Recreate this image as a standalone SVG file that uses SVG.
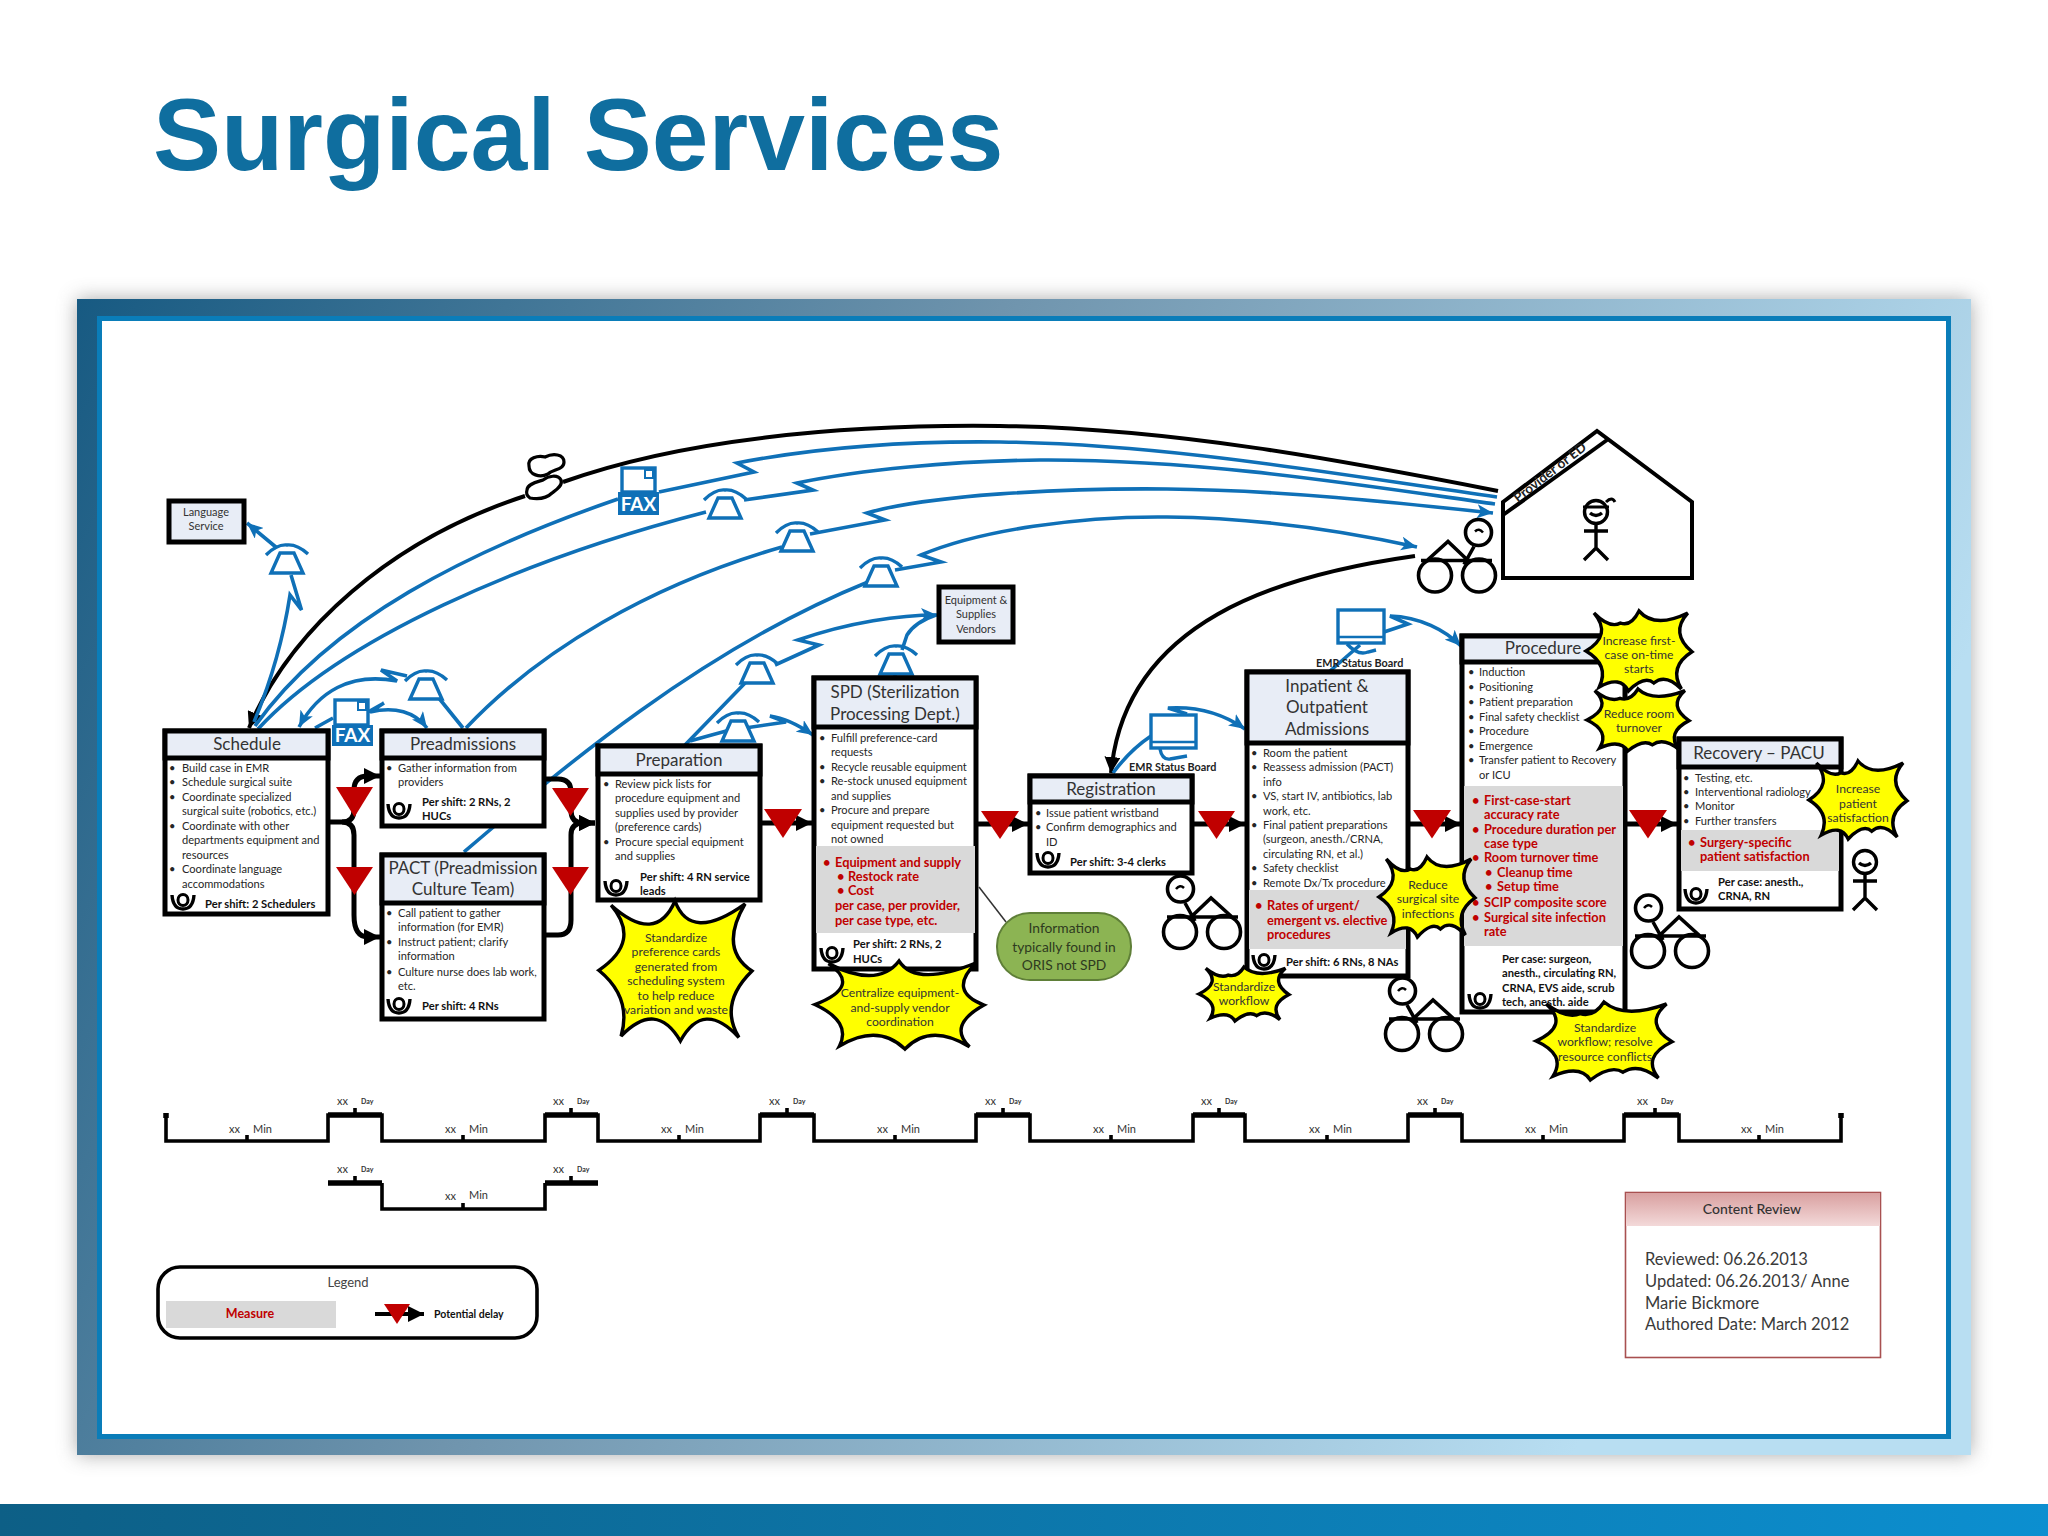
<svg xmlns="http://www.w3.org/2000/svg" width="2048" height="1536" viewBox="0 0 2048 1536">
<style>
text{font-family:"Lato","Liberation Sans",sans-serif;fill:#262626}
.box{fill:#fff;stroke:#000;stroke-width:5}
.hd{fill:#e8edf6;stroke:#000;stroke-width:5}
.t{font-size:17px;text-anchor:middle;fill:#333}
.b{font-size:11.1px}
.s{font-size:11.2px;font-weight:700;fill:#111}
.r{font-size:12.8px;font-weight:700;fill:#c00000}
.m{fill:#d9d9d9}
.bl{fill:none;stroke:#0f70b7;stroke-width:3.6}
.bk{fill:none;stroke:#000;stroke-width:4}
.fl{fill:none;stroke:#000;stroke-width:5}
.ic{fill:#fff;stroke:#0f70b7;stroke-width:3.4}
.star{fill:#ffff00;stroke:#000;stroke-width:3.4;stroke-linejoin:miter;vector-effect:non-scaling-stroke}
.y{font-size:12.2px;text-anchor:middle;fill:#333}
.g{font-size:13.8px;text-anchor:middle;fill:#2e3a20}
.tri{fill:#c00000}
.tl{fill:none;stroke:#000;stroke-width:3.6}
.tlh{fill:none;stroke:#000;stroke-width:5.5}
.x{font-size:11px;fill:#333}
.d{font-size:7px;fill:#333;font-weight:700}
.lab{font-size:10.8px;font-weight:700;fill:#222}
.nm{font-size:11px;text-anchor:middle;fill:#333}
</style>
<defs>
<linearGradient id="fr" x1="0" y1="0" x2="1" y2="0.3"><stop offset="0" stop-color="#175a82"/><stop offset=".45" stop-color="#6f94ad"/><stop offset="1" stop-color="#b8def2"/></linearGradient>
<linearGradient id="bar" x1="0" y1="0" x2="1" y2="0"><stop offset="0" stop-color="#0d5f86"/><stop offset="1" stop-color="#0c8fd0"/></linearGradient>
<linearGradient id="cr" x1="0" y1="0" x2="0" y2="1"><stop offset="0" stop-color="#d9a0a0"/><stop offset="1" stop-color="#f3d9d9"/></linearGradient>
<filter id="sh" x="-5%" y="-5%" width="110%" height="110%"><feGaussianBlur stdDeviation="10"/></filter>
<marker id="ab" markerUnits="userSpaceOnUse" markerWidth="18" markerHeight="14" refX="16" refY="7" orient="auto"><path d="M0,0L16,7L0,14L4,7z" fill="#0f70b7"/></marker>
<marker id="ak" markerUnits="userSpaceOnUse" markerWidth="18" markerHeight="16" refX="16" refY="8" orient="auto"><path d="M0,0L16,8L0,16z" fill="#000"/></marker>
<g id="phone"><path d="M-21,-7Q-10,-18 0,-17Q10,-18 21,-8" fill="none" stroke="#0f70b7" stroke-width="3.4"/><path class="ic" d="M-7,-9H7L16,11H-16z"/></g>
<g id="bike" fill="none" stroke="#000" stroke-width="3.6"><circle cx="13" cy="15" r="16.500"/><circle cx="57" cy="15" r="16.500"/><path d="M0,0H71M24,0L44,-19L65,0M18,-14L28,4"/><circle cx="13.500" cy="-28" r="13"/><path d="M9,-28Q13,-33 17,-29" stroke-width="2.500"/></g>
<g id="worker" fill="none" stroke="#000"><path d="M-11,-6Q-10,8 0,8Q10,8 11,-6" stroke-width="3.4"/><ellipse cx="0" cy="-1" rx="5" ry="5.500" stroke-width="3"/></g>
<g id="person" fill="none" stroke="#000" stroke-width="3.4"><circle cx="0" cy="0" r="11.500"/><path d="M0,11.500V36M-12,19H12M0,36L-12,48M0,36L12,48M-6,1Q0,6 6,1"/></g>
<path id="b8" class="star" d="M0,-1Q.2,-.4 .91,-.96Q.565,-.32 1,0Q.565,.465 .83,.95Q.37,.4 .07,1Q-.245,.41 -.7,.93Q-.555,.38 -.99,-.01Q-.43,-.425 -.83,-.94Q-.25,-.37 0,-1z"/>
<path id="b12" class="star" d="M0,-1Q.3,-.55 .92,-.95Q.58,-.45 1,.02Q.55,.4 .8,.95Q.5,.55 .28,.8Q.1,.6 -.2,1Q-.35,.6 -.75,.9Q-.55,.35 -1,0Q-.5,-.4 -.85,-.95Q-.55,-.55 -.35,-.7Q-.15,-.6 0,-1z"/>
</defs>
<rect width="2048" height="1536" fill="#fff"/>
<g id="slide">
<rect x="77" y="299" width="1894" height="1156" fill="#555" opacity=".5" filter="url(#sh)"/>
<rect x="77" y="299" width="1894" height="1156" fill="url(#fr)"/>
<rect x="97" y="316" width="1854" height="1123" fill="#0a7db9"/>
<rect x="102" y="321" width="1844" height="1113" fill="#fff"/>
<rect x="0" y="1504" width="2048" height="32" fill="url(#bar)"/>
<text x="153" y="170" font-size="102" font-weight="700" style="font-family:'Liberation Sans',sans-serif;fill:#0f6e9f">Surgical Services</text>
</g>
<g id="connectors">
<path class="bk" d="M525,496C390,540 290,630 249,728" marker-end="url(#ak)"/>
<path class="bk" d="M563,482C680,440 840,424 1000,426C1170,428 1340,460 1498,491"/>
<path class="bk" d="M1415,556C1280,575 1125,620 1111,773" marker-end="url(#ak)"/>
<path class="bl" d="M255,726C330,620 470,550 618,499M659,492L754,472L737,463C830,445 920,441 1000,442C1170,444 1340,475 1497,497"/>
<path class="bl" d="M258,729C340,640 520,560 706,512M744,500L813,490L797,483C860,470 950,461 1040,460C1200,459 1360,485 1495,504"/>
<path class="bl" d="M466,728C540,650 650,585 782,547M810,534L885,520L867,513C930,495 1060,488 1167,489C1280,490 1400,503 1493,513" marker-end="url(#ab)"/>
<path class="bl" d="M464,852C560,770 700,650 868,582M895,570L941,562L921,555C980,530 1080,516 1167,517C1260,518 1340,530 1417,547" marker-end="url(#ab)"/>
<path class="bl" d="M685,745L748,680M775,665L819,645L798,640C850,622 900,615 937,615" marker-end="url(#ab)"/>
<path class="bl" d="M690,741Q715,734 730,730M745,728L786,722L770,716C785,718 800,726 813,735" marker-end="url(#ab)"/>
<path class="bl" d="M895,678V672M902,650L907,635Q915,622 936,615"/>
<path class="bl" d="M254,722Q280,660 290,595L301.500,610L291,575M277,548L247,523" marker-end="url(#ab)"/>
<path class="bl" d="M463,728L438,697M407,676L381,670L397,681C350,672 318,692 299,727" marker-end="url(#ab)"/>
<path class="bl" d="M315,728L333,718M368,712L384,703L370,712C395,706 415,712 427,728" marker-end="url(#ab)"/>
<path class="bl" d="M1113,773Q1130,750 1151,736M1187,714L1168,708C1200,706 1225,715 1245,729" marker-end="url(#ab)"/>
<path class="bl" d="M1384,632L1408,624L1390,616C1420,617 1445,630 1461,646" marker-end="url(#ab)"/>
<path class="bl" d="M1330,671L1360,645"/>
<path d="M979,887L1006,922" stroke="#333" stroke-width="1.500" fill="none"/>
<path class="fl" d="M328,822H342Q354,822 354,810V790Q354,776 368,776H380" marker-end="url(#ak)"/>
<path class="fl" d="M342,822Q354,822 354,835V915Q354,937 368,937H380" marker-end="url(#ak)"/>
<path class="fl" d="M544,779H558Q571,779 571,792V810Q571,823 583,823H595" marker-end="url(#ak)"/>
<path class="fl" d="M544,935H558Q571,935 571,920V835Q571,823 583,823H595" marker-end="url(#ak)"/>
<path class="fl" d="M760,823H812" marker-end="url(#ak)"/>
<path class="fl" d="M977,824H1028" marker-end="url(#ak)"/>
<path class="fl" d="M1192,824H1245" marker-end="url(#ak)"/>
<path class="fl" d="M1408,824H1461" marker-end="url(#ak)"/>
<path class="fl" d="M1626,824H1677" marker-end="url(#ak)"/>
</g>
<g id="icons">
<use href="#phone" x="725" y="507"/><use href="#phone" x="797" y="540"/><use href="#phone" x="881" y="575"/><use href="#phone" x="757" y="672"/><use href="#phone" x="738" y="730"/><use href="#phone" x="896" y="663"/><use href="#phone" x="287" y="562"/><use href="#phone" x="426" y="688"/>
<g id="cloud" fill="#fff" stroke="#000" stroke-width="3.200"><path d="M529,466C527,458 538,455 545,457C553,453 564,454 564,462C564,470 553,469 548,474C540,478 529,475 529,466z"/><path d="M527,490C527,484 537,482 543,480C548,476 558,474 561,480C563,486 556,490 552,493C546,499 536,499 530,498C527,496 526,493 527,490z"/></g>
<g id="fax1"><rect x="622" y="468" width="33" height="24" fill="#fff" stroke="#0f70b7" stroke-width="3.400"/><rect x="645" y="470" width="8" height="8" fill="none" stroke="#0f70b7" stroke-width="2"/><rect x="618" y="492" width="41" height="23" fill="#0f70b7"/><text x="638.500" y="511" font-size="19" font-weight="700" text-anchor="middle" style="fill:#fff">FAX</text></g>
<g id="fax2"><rect x="335" y="700" width="33" height="25" fill="#fff" stroke="#0f70b7" stroke-width="3.400"/><rect x="358" y="702" width="8" height="8" fill="none" stroke="#0f70b7" stroke-width="2"/><rect x="332" y="725" width="41" height="21" fill="#0f70b7"/><text x="352.500" y="742" font-size="19" font-weight="700" text-anchor="middle" style="fill:#fff">FAX</text></g>
<g id="monitor1" fill="#fff" stroke="#0f70b7" stroke-width="3.400"><rect x="1151" y="715" width="45" height="33"/><path d="M1151,742H1196" stroke-width="2.500"/><path d="M1160,749Q1162,760 1170,759L1187,756" fill="none"/></g>
<g id="monitor2" fill="#fff" stroke="#0f70b7" stroke-width="3.400"><rect x="1338" y="610" width="46" height="33"/><path d="M1338,637H1384" stroke-width="2.500"/><path d="M1347,644Q1358,656 1368,652L1376,650" fill="none"/></g>
<use href="#bike" transform="translate(1492,560.500) scale(-1,1)"/>
<use href="#bike" x="1167" y="917"/><use href="#bike" x="1389" y="1019"/><use href="#bike" x="1635" y="936"/>
<use href="#person" x="1865" y="862"/>
</g>
<g id="house">
<path d="M1503,502L1597,431L1692,502V578H1503z" fill="#fff" stroke="#000" stroke-width="4"/>
<path d="M1503,515L1607,440" stroke="#000" stroke-width="4" fill="none"/>
<text x="1518" y="503" font-size="13.500" font-weight="700" transform="rotate(-38 1518 503)" style="fill:#222">Provider or ED</text>
<use href="#person" x="1596" y="512"/>
<path d="M1583,507H1609M1606,502Q1612,496 1615,502" fill="none" stroke="#000" stroke-width="3"/>
</g>
<g id="language"><rect class="hd" x="169" y="501" width="75" height="41"/><text class="nm" x="206" y="515.500">Language</text><text class="nm" x="206" y="530">Service</text></g>
<g id="vendors"><rect class="hd" x="939" y="587" width="74" height="55"/><text class="nm" x="976" y="604">Equipment &amp;</text><text class="nm" x="976" y="618">Supplies</text><text class="nm" x="976" y="632.500">Vendors</text></g>
<g id="schedule"><rect class="box" x="165" y="731" width="163" height="183"/><rect class="hd" x="165" y="731" width="163" height="27"/><text class="t" x="247" y="750">Schedule</text>
<text class="b"><tspan x="169" y="772">•</tspan><tspan x="182" y="772">Build case in EMR</tspan><tspan x="169" y="786">•</tspan><tspan x="182" y="786">Schedule surgical suite</tspan><tspan x="169" y="801">•</tspan><tspan x="182" y="801">Coordinate specialized</tspan><tspan x="182" y="815">surgical suite (robotics, etc.)</tspan><tspan x="169" y="830">•</tspan><tspan x="182" y="830">Coordinate with other</tspan><tspan x="182" y="844">departments equipment and</tspan><tspan x="182" y="858.500">resources</tspan><tspan x="169" y="873">•</tspan><tspan x="182" y="873">Coordinate language</tspan><tspan x="182" y="887.500">accommodations</tspan></text>
<use href="#worker" x="183" y="901"/><text class="s" x="205" y="907.500">Per shift: 2 Schedulers</text></g>
<g id="preadmissions"><rect class="box" x="382" y="731" width="162" height="95"/><rect class="hd" x="382" y="731" width="162" height="27"/><text class="t" x="463" y="750">Preadmissions</text>
<text class="b"><tspan x="386" y="772">•</tspan><tspan x="398" y="772">Gather information from</tspan><tspan x="398" y="786">providers</tspan></text>
<use href="#worker" x="399" y="810"/><text class="s"><tspan x="422" y="806">Per shift: 2 RNs, 2</tspan><tspan x="422" y="820">HUCs</tspan></text></g>
<g id="pact"><rect class="box" x="382" y="855" width="162" height="164"/><rect class="hd" x="382" y="855" width="162" height="48"/><text class="t"><tspan x="463" y="873.500">PACT (Preadmission</tspan><tspan x="463" y="895">Culture Team)</tspan></text>
<text class="b"><tspan x="386" y="916.500">•</tspan><tspan x="398" y="916.500">Call patient to gather</tspan><tspan x="398" y="931">information (for EMR)</tspan><tspan x="386" y="945.500">•</tspan><tspan x="398" y="945.500">Instruct patient; clarify</tspan><tspan x="398" y="960">information</tspan><tspan x="386" y="976">•</tspan><tspan x="398" y="976">Culture nurse does lab work,</tspan><tspan x="398" y="990">etc.</tspan></text>
<use href="#worker" x="399" y="1005"/><text class="s" x="422" y="1009.500">Per shift: 4 RNs</text></g>
<g id="preparation"><rect class="box" x="598" y="746" width="162" height="154"/><rect class="hd" x="598" y="746" width="162" height="28"/><text class="t" x="679" y="766">Preparation</text>
<text class="b"><tspan x="603" y="788">•</tspan><tspan x="615" y="788">Review pick lists for</tspan><tspan x="615" y="802">procedure equipment and</tspan><tspan x="615" y="817">supplies used by provider</tspan><tspan x="615" y="831">(preference cards)</tspan><tspan x="603" y="845.500">•</tspan><tspan x="615" y="845.500">Procure special equipment</tspan><tspan x="615" y="860">and supplies</tspan></text>
<use href="#worker" x="616" y="887"/><text class="s"><tspan x="640" y="880.500">Per shift: 4 RN service</tspan><tspan x="640" y="895">leads</tspan></text></g>
<g id="spd"><rect class="box" x="814" y="678" width="162" height="291"/><rect class="hd" x="814" y="678" width="162" height="49"/><text class="t"><tspan x="895" y="698">SPD (Sterilization</tspan><tspan x="895" y="720">Processing Dept.)</tspan></text>
<text class="b"><tspan x="819" y="742">•</tspan><tspan x="831" y="742">Fulfill preference-card</tspan><tspan x="831" y="756">requests</tspan><tspan x="819" y="771">•</tspan><tspan x="831" y="771">Recycle reusable equipment</tspan><tspan x="819" y="785">•</tspan><tspan x="831" y="785">Re-stock unused equipment</tspan><tspan x="831" y="799.500">and supplies</tspan><tspan x="819" y="814">•</tspan><tspan x="831" y="814">Procure and prepare</tspan><tspan x="831" y="828.500">equipment requested but</tspan><tspan x="831" y="843">not owned</tspan></text>
<rect class="m" x="816" y="846" width="159" height="87"/>
<text class="r"><tspan x="823" y="866.500">•</tspan><tspan x="835" y="866.500">Equipment and supply</tspan><tspan x="837" y="880.500">•</tspan><tspan x="848" y="880.500">Restock rate</tspan><tspan x="837" y="895">•</tspan><tspan x="848" y="895">Cost</tspan><tspan x="835" y="910">per case, per provider,</tspan><tspan x="835" y="924.500">per case type, etc.</tspan></text>
<use href="#worker" x="832" y="954"/><text class="s"><tspan x="853" y="948">Per shift: 2 RNs, 2</tspan><tspan x="853" y="962.500">HUCs</tspan></text></g>
<g id="registration"><rect class="box" x="1030" y="776" width="162" height="97"/><rect class="hd" x="1030" y="776" width="162" height="26"/><text class="t" x="1111" y="795">Registration</text>
<text class="b"><tspan x="1035" y="817">•</tspan><tspan x="1046" y="817">Issue patient wristband</tspan><tspan x="1035" y="831">•</tspan><tspan x="1046" y="831">Confirm demographics and</tspan><tspan x="1046" y="846">ID</tspan></text>
<use href="#worker" x="1048" y="859"/><text class="s" x="1070" y="865.500">Per shift: 3-4 clerks</text></g>
<g id="inpatient"><rect class="box" x="1247" y="672" width="161" height="304"/><rect class="hd" x="1247" y="672" width="161" height="71"/><text class="t"><tspan x="1327" y="691.500">Inpatient &amp;</tspan><tspan x="1327" y="713">Outpatient</tspan><tspan x="1327" y="735">Admissions</tspan></text>
<text class="b"><tspan x="1251" y="756.500">•</tspan><tspan x="1263" y="756.500">Room the patient</tspan><tspan x="1251" y="771">•</tspan><tspan x="1263" y="771">Reassess admission (PACT)</tspan><tspan x="1263" y="785.500">info</tspan><tspan x="1251" y="800">•</tspan><tspan x="1263" y="800">VS, start IV, antibiotics, lab</tspan><tspan x="1263" y="814.500">work, etc.</tspan><tspan x="1251" y="829">•</tspan><tspan x="1263" y="829">Final patient preparations</tspan><tspan x="1263" y="843">(surgeon, anesth./CRNA,</tspan><tspan x="1263" y="858">circulating RN, et al.)</tspan><tspan x="1251" y="872">•</tspan><tspan x="1263" y="872">Safety checklist</tspan><tspan x="1251" y="886.500">•</tspan><tspan x="1263" y="886.500">Remote Dx/Tx  procedure</tspan></text>
<rect class="m" x="1249" y="890" width="157" height="59"/>
<text class="r"><tspan x="1255" y="910">•</tspan><tspan x="1267" y="910">Rates of urgent/</tspan><tspan x="1267" y="924.500">emergent vs. elective</tspan><tspan x="1267" y="939">procedures</tspan></text>
<use href="#worker" x="1264" y="961"/><text class="s" x="1286" y="965.500">Per shift: 6 RNs, 8 NAs</text></g>
<g id="procedure"><rect class="box" x="1462" y="636" width="163" height="376"/><rect class="hd" x="1462" y="636" width="163" height="26"/><text class="t" x="1543" y="654">Procedure</text>
<text class="b"><tspan x="1468" y="676">•</tspan><tspan x="1479" y="676">Induction</tspan><tspan x="1468" y="690.500">•</tspan><tspan x="1479" y="690.500">Positioning</tspan><tspan x="1468" y="706">•</tspan><tspan x="1479" y="706">Patient preparation</tspan><tspan x="1468" y="721">•</tspan><tspan x="1479" y="721">Final safety checklist</tspan><tspan x="1468" y="735">•</tspan><tspan x="1479" y="735">Procedure</tspan><tspan x="1468" y="750">•</tspan><tspan x="1479" y="750">Emergence</tspan><tspan x="1468" y="764">•</tspan><tspan x="1479" y="764">Transfer patient to Recovery</tspan><tspan x="1479" y="778.500">or ICU</tspan></text>
<rect class="m" x="1464" y="786" width="159" height="160"/>
<text class="r"><tspan x="1472" y="804.500">•</tspan><tspan x="1484" y="804.500">First-case-start</tspan><tspan x="1484" y="819">accuracy rate</tspan><tspan x="1472" y="833.500">•</tspan><tspan x="1484" y="833.500">Procedure duration per</tspan><tspan x="1484" y="848">case type</tspan><tspan x="1472" y="862">•</tspan><tspan x="1484" y="862">Room turnover time</tspan><tspan x="1485" y="877">•</tspan><tspan x="1497" y="877">Cleanup time</tspan><tspan x="1485" y="891">•</tspan><tspan x="1497" y="891">Setup time</tspan><tspan x="1472" y="907">•</tspan><tspan x="1484" y="907">SCIP composite score</tspan><tspan x="1472" y="921.500">•</tspan><tspan x="1484" y="921.500">Surgical site infection</tspan><tspan x="1484" y="936">rate</tspan></text>
<use href="#worker" x="1480" y="1000"/><text class="s"><tspan x="1502" y="963">Per case: surgeon,</tspan><tspan x="1502" y="977">anesth., circulating RN,</tspan><tspan x="1502" y="992">CRNA, EVS aide, scrub</tspan><tspan x="1502" y="1006">tech, anesth. aide</tspan></text></g>
<g id="recovery"><rect class="box" x="1679" y="739" width="162" height="170"/><rect class="hd" x="1679" y="739" width="162" height="28"/><text class="t" x="1759" y="759">Recovery – PACU</text>
<text class="b"><tspan x="1683" y="781.500">•</tspan><tspan x="1695" y="781.500">Testing, etc.</tspan><tspan x="1683" y="796">•</tspan><tspan x="1695" y="796">Interventional radiology</tspan><tspan x="1683" y="810">•</tspan><tspan x="1695" y="810">Monitor</tspan><tspan x="1683" y="825">•</tspan><tspan x="1695" y="825">Further transfers</tspan></text>
<rect class="m" x="1681" y="830" width="158" height="41"/>
<text class="r"><tspan x="1688" y="847">•</tspan><tspan x="1700" y="847">Surgery-specific</tspan><tspan x="1700" y="861">patient satisfaction</tspan></text>
<use href="#worker" x="1696" y="895"/><text class="s"><tspan x="1718" y="886">Per case: anesth.,</tspan><tspan x="1718" y="900">CRNA, RN</tspan></text></g>
<g id="emr-labels"><text class="lab" x="1129" y="771">EMR Status Board</text><text class="lab" x="1316" y="667">EMR Status Board</text></g>
<g id="delays">
<path class="tri" d="M336,787H373L354.500,817z"/><path class="tri" d="M336,867H373L354.500,895z"/><path class="tri" d="M552,788H589L570.500,816z"/><path class="tri" d="M552,867H589L570.500,895z"/><path class="tri" d="M764,809H802L783,838z"/><path class="tri" d="M981,811H1019L1000,839z"/><path class="tri" d="M1198,811H1235L1216.500,839z"/><path class="tri" d="M1413,810H1451L1432,838.500z"/><path class="tri" d="M1629,810H1667L1648,838.500z"/>
</g>
<g id="info"><rect x="997" y="913" width="134" height="67" rx="33" fill="#8cb453" stroke="#5f7f38" stroke-width="2"/><text class="g" x="1064" y="933">Information</text><text class="g" x="1064" y="951.500">typically found in</text><text class="g" x="1064" y="970">ORIS not SPD</text></g>
<g id="star-prep"><use href="#b8" transform="translate(675,971) scale(77,70)"/><text class="y"><tspan x="676" y="941.500">Standardize</tspan><tspan x="676" y="956">preference cards</tspan><tspan x="676" y="970.500">generated from</tspan><tspan x="676" y="985">scheduling system</tspan><tspan x="676" y="999.500">to help reduce</tspan><tspan x="676" y="1014">variation and waste</tspan></text></g>
<g id="star-spd"><use href="#b8" transform="translate(899,1005) scale(85,44)"/><text class="y"><tspan x="900" y="997">Centralize equipment-</tspan><tspan x="900" y="1011.500">and-supply vendor</tspan><tspan x="900" y="1026">coordination</tspan></text></g>
<g id="star-wf"><use href="#b12" transform="translate(1244,994) scale(45,27)"/><text class="y"><tspan x="1244" y="991">Standardize</tspan><tspan x="1244" y="1005">workflow</tspan></text></g>
<g id="star-ssi"><use href="#b12" transform="translate(1427,897) scale(48,40)"/><text class="y"><tspan x="1428" y="889">Reduce</tspan><tspan x="1428" y="903">surgical site</tspan><tspan x="1428" y="917.500">infections</tspan></text></g>
<g id="star-first"><use href="#b12" transform="translate(1639,651) scale(53,40)"/><text class="y"><tspan x="1639" y="644.500">Increase first-</tspan><tspan x="1639" y="658.500">case on-time</tspan><tspan x="1639" y="673">starts</tspan></text></g>
<g id="star-room"><use href="#b12" transform="translate(1638,720) scale(51,31)"/><text class="y"><tspan x="1639" y="718">Reduce room</tspan><tspan x="1639" y="732">turnover</tspan></text></g>
<g id="star-res"><use href="#b12" transform="translate(1604,1041) scale(68,39)"/><text class="y"><tspan x="1605" y="1032">Standardize</tspan><tspan x="1605" y="1046">workflow; resolve</tspan><tspan x="1605" y="1061">resource conflicts</tspan></text></g>
<g id="star-sat"><use href="#b12" transform="translate(1858,800) scale(49,39)"/><text class="y"><tspan x="1858" y="793">Increase</tspan><tspan x="1858" y="807.500">patient</tspan><tspan x="1858" y="821.500">satisfaction</tspan></text></g>
<g id="timeline">
<path class="tl" d="M166,1113V1141H328V1115H382V1141H545V1115H598V1141H760V1115H814V1141H976V1115H1030V1141H1193V1115H1245V1141H1408V1115H1462V1141H1624V1115H1679V1141H1841V1113"/>
<path class="tlh" d="M328,1115H382M545,1115H598M760,1115H814M976,1115H1030M1193,1115H1245M1408,1115H1462M1624,1115H1679M166,1113V1118M1841,1113V1118"/>
<path class="tl" d="M382,1183V1209H545V1183"/><path class="tlh" d="M328,1183H382M545,1183H598"/>
<path class="tl" d="M247,1135V1141M463,1135V1141M679,1135V1141M895,1135V1141M1111,1135V1141M1327,1135V1141M1543,1135V1141M1759,1135V1141M463,1203V1209M355,1108V1114M571,1108V1114M787,1108V1114M1003,1108V1114M1219,1108V1114M1435,1108V1114M1655,1108V1114M355,1176V1182M571,1176V1182"/>
<text class="x"><tspan x="229" y="1133">xx</tspan><tspan x="253" y="1133">Min</tspan><tspan x="445" y="1133">xx</tspan><tspan x="469" y="1133">Min</tspan><tspan x="661" y="1133">xx</tspan><tspan x="685" y="1133">Min</tspan><tspan x="877" y="1133">xx</tspan><tspan x="901" y="1133">Min</tspan><tspan x="1093" y="1133">xx</tspan><tspan x="1117" y="1133">Min</tspan><tspan x="1309" y="1133">xx</tspan><tspan x="1333" y="1133">Min</tspan><tspan x="1525" y="1133">xx</tspan><tspan x="1549" y="1133">Min</tspan><tspan x="1741" y="1133">xx</tspan><tspan x="1765" y="1133">Min</tspan><tspan x="445" y="1200">xx</tspan><tspan x="469" y="1199">Min</tspan><tspan x="337" y="1105">xx</tspan><tspan x="553" y="1105">xx</tspan><tspan x="769" y="1105">xx</tspan><tspan x="985" y="1105">xx</tspan><tspan x="1201" y="1105">xx</tspan><tspan x="1417" y="1105">xx</tspan><tspan x="1637" y="1105">xx</tspan><tspan x="337" y="1173">xx</tspan><tspan x="553" y="1173">xx</tspan></text>
<text class="d"><tspan x="361" y="1104">Day</tspan><tspan x="577" y="1104">Day</tspan><tspan x="793" y="1104">Day</tspan><tspan x="1009" y="1104">Day</tspan><tspan x="1225" y="1104">Day</tspan><tspan x="1441" y="1104">Day</tspan><tspan x="1661" y="1104">Day</tspan><tspan x="361" y="1172">Day</tspan><tspan x="577" y="1172">Day</tspan></text>
</g>
<g id="legend"><rect x="158" y="1267" width="379" height="71" rx="22" fill="#fff" stroke="#000" stroke-width="3.600"/><text x="348" y="1287" font-size="13" text-anchor="middle" style="fill:#444">Legend</text><rect class="m" x="166" y="1301" width="170" height="27"/><text x="250" y="1318" font-size="12.500" font-weight="700" text-anchor="middle" style="fill:#c00000">Measure</text><path d="M375,1314H424" stroke="#000" stroke-width="4" fill="none" marker-end="url(#ak)"/><path class="tri" d="M384,1304H410L397,1324z"/><text x="434" y="1318" font-size="10.500" font-weight="700" style="fill:#111">Potential delay</text></g>
<g id="content-review"><rect x="1625.500" y="1192.500" width="255" height="165" fill="#fff" stroke="#a85050" stroke-width="1.600"/><rect x="1626" y="1193" width="254" height="33" fill="url(#cr)"/><text x="1752" y="1214" font-size="14" font-weight="500" text-anchor="middle" style="fill:#333">Content Review</text><text font-size="16.500" style="fill:#3a3a3a"><tspan x="1645" y="1265">Reviewed: 06.26.2013</tspan><tspan x="1645" y="1286.500">Updated: 06.26.2013/ Anne</tspan><tspan x="1645" y="1308.500">Marie Bickmore</tspan><tspan x="1645" y="1330">Authored Date: March 2012</tspan></text></g>
</svg>
